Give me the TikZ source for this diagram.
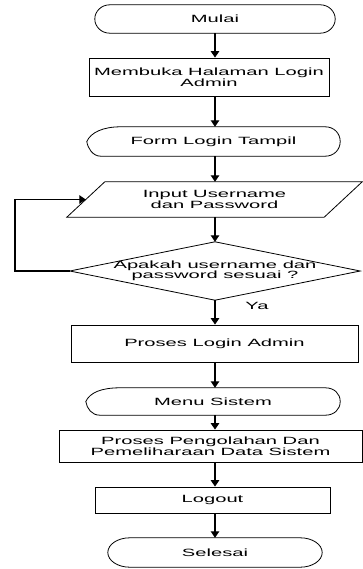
\documentclass[tikz,border=0pt]{standalone}
\usepackage{fontspec}
\setmainfont{Liberation Sans}[FakeStretch=1.92]
\usetikzlibrary{arrows.meta,calc}
\begin{document}
\begin{tikzpicture}[x=1pt,y=-1pt,
  txt/.style={font=\fontsize{10.5}{10.5}\selectfont, align=center, inner sep=0pt},
  box/.style={txt, draw, line width=0.8pt, rectangle},
  ghost/.style={txt, rectangle},
  outl/.style={draw, line width=0.8pt},
  arr/.style={line width=1.1pt, -{Triangle[length=6.5pt,width=8.5pt]}}]
\useasboundingbox (0,0) rectangle (363,569);

% nodes
\node[ghost, minimum width=240pt, minimum height=28pt] (mulai) at (215,19) {Mulai};
\node[box, minimum width=240pt, minimum height=38pt] (buka) at (209,77) {Membuka Halaman Login\\Admin};
\node[ghost, minimum width=253pt, minimum height=29pt] (form) at (213.5,141.5) {Form Login Tampil};
\node[ghost, minimum width=257pt, minimum height=35pt] (input) at (214.5,199.5) {Input Username\\dan Password};
\node[ghost, minimum width=290pt, minimum height=58pt] (cek) at (215,271) {\rule{0pt}{4pt}Apakah username dan\\password sesuai ?};
\node[box, minimum width=287pt, minimum height=37pt] (proses) at (214.5,343.5) {Proses Login Admin};
\node[ghost, minimum width=254pt, minimum height=27pt] (menu) at (213,401.5) {Menu Sistem};
\node[box, minimum width=303pt, minimum height=32pt] (olah) at (210.5,446) {Proses Pengolahan Dan\\Pemeliharaan Data Sistem};
\node[box, minimum width=235pt, minimum height=26pt] (logout) at (212.5,500) {Logout};
\node[ghost, minimum width=214pt, minimum height=29pt] (selesai) at (215,552.5) {Selesai};
\node[txt] (ya) at (257,306) {Ya};
\coordinate (ax) at (215,0);
\coordinate (lp) at (15,0);

% terminators (elliptic ends)
\foreach \n/\r in {mulai/15, selesai/22}{
  \draw[outl] ($(\n.north west)+(\r,0)$) -- ($(\n.north east)+(-\r,0)$)
    .. controls ($(\n.north east)+(-0.448*\r,0)$) and ($(\n.east)!0.552!(\n.north east)$) .. (\n.east)
    .. controls ($(\n.east)!0.552!(\n.south east)$) and ($(\n.south east)+(-0.448*\r,0)$) .. ($(\n.south east)+(-\r,0)$)
    -- ($(\n.south west)+(\r,0)$)
    .. controls ($(\n.south west)+(0.448*\r,0)$) and ($(\n.west)!0.552!(\n.south west)$) .. (\n.west)
    .. controls ($(\n.west)!0.552!(\n.north west)$) and ($(\n.north west)+(0.448*\r,0)$) .. cycle;
}

% display shapes
\foreach \n in {form, menu}{
  \draw[outl] ($(\n.north west)+(34,0)$) -- ($(\n.north east)+(-15,0)$)
    .. controls ($(\n.north east)+(-6,0)$) and ($(\n.east)+(0,-8)$) .. (\n.east)
    .. controls ($(\n.east)+(0,8)$) and ($(\n.south east)+(-6,0)$) .. ($(\n.south east)+(-15,0)$)
    -- ($(\n.south west)+(14,0)$)
    .. controls ($(\n.south west)+(6,0)$) and ($(\n.west)+(1,7)$) .. (\n.west)
    .. controls ($(\n.west)+(4,-9)$) and ($(\n.north west)+(16,0)$) .. cycle;
}

% parallelogram
\draw[outl] ($(input.north west)+(19,0)$) -- ($(input.north east)+(19,0)$)
  -- ($(input.south east)+(-19,0)$) -- ($(input.south west)+(-19,0)$) -- cycle;

% diamond
\draw[outl] (cek.north) -- (cek.east) -- (cek.south) -- (cek.west) -- cycle;

% connectors
\draw[arr] (ax |- mulai.south) -- (ax |- buka.north);
\draw[arr] (ax |- buka.south) -- (ax |- form.north);
\draw[arr] (ax |- form.south) -- (ax |- input.north);
\draw[arr] (ax |- input.south) -- (ax |- cek.north);
\draw[arr] (ax |- cek.south) -- (ax |- proses.north);
\draw[arr] (ax |- proses.south) -- (ax |- menu.north);
\draw[arr] (ax |- menu.south) -- (ax |- olah.north);
\draw[arr] (ax |- olah.south) -- (ax |- logout.north);
\draw[arr] (ax |- logout.south) -- (ax |- selesai.north);
\draw[arr] (cek.west) -- (lp |- cek.west) |- (input.west);
\end{tikzpicture}
\end{document}
